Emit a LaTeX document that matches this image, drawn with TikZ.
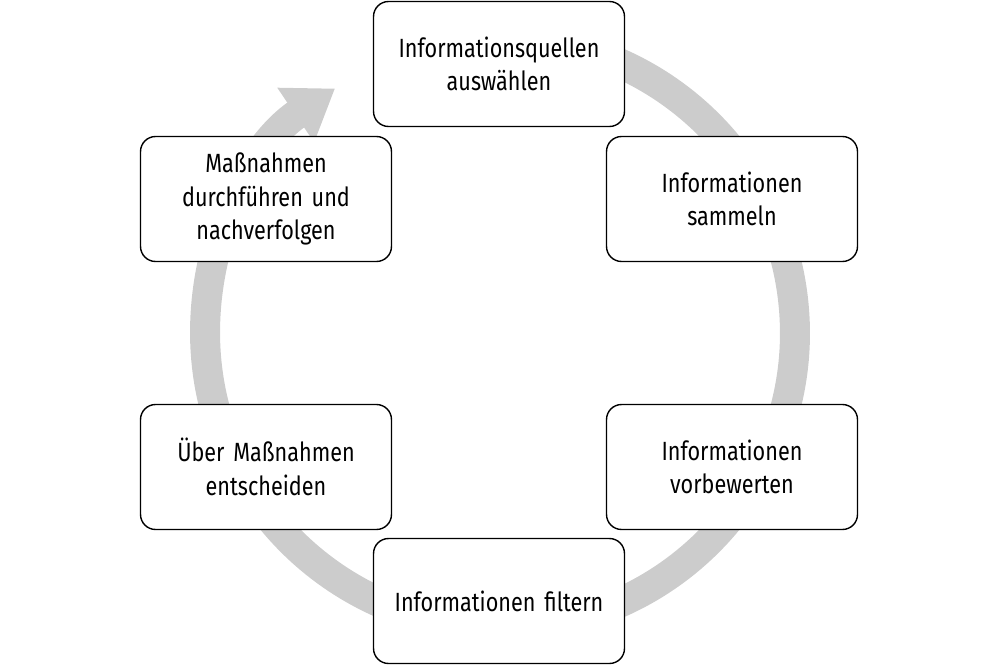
\documentclass[tikz,border=0pt]{standalone}
\usepackage{fontspec}
\setmainfont{Fira Sans}[FakeStretch=0.82]
\usetikzlibrary{arrows.meta, positioning}

\begin{document}
\begin{tikzpicture}[
    x=0.02cm, y=0.02cm,
    step box/.style={rectangle, rounded corners=0.3cm, draw=black, line width=0.8pt, fill=white,
        minimum width=5.02cm, minimum height=2.5cm, text width=4.7cm, align=center,
        font=\fontsize{15}{19}\selectfont},
    ring/.style={line width=0.6cm, draw=black!20, -{Triangle[width=1.25cm, length=0.95cm]}}
]
\useasboundingbox (0,0) rectangle (1000,667);

% Ring
\coordinate (centre) at (500,334);
\draw[ring] (centre) ++(95:5.9cm) arc[start angle=95, end angle=-236, radius=5.9cm];

% Steps
\node[step box] (select) at (499,603) {Informationsquellen\\auswählen};
\node[step box] (collect) at (732,468) {Informationen sammeln};
\node[step box] (rate) at (732,200) {Informationen\\vorbewerten};
\node[step box] (filter) at (499,66) {Informationen filtern};
\node[step box] (decide) at (266,200) {Über Maßnahmen\\entscheiden};
\node[step box] (track) at (266,468) {Maßnahmen\\durchführen und\\nachverfolgen};

\end{tikzpicture}
\end{document}
